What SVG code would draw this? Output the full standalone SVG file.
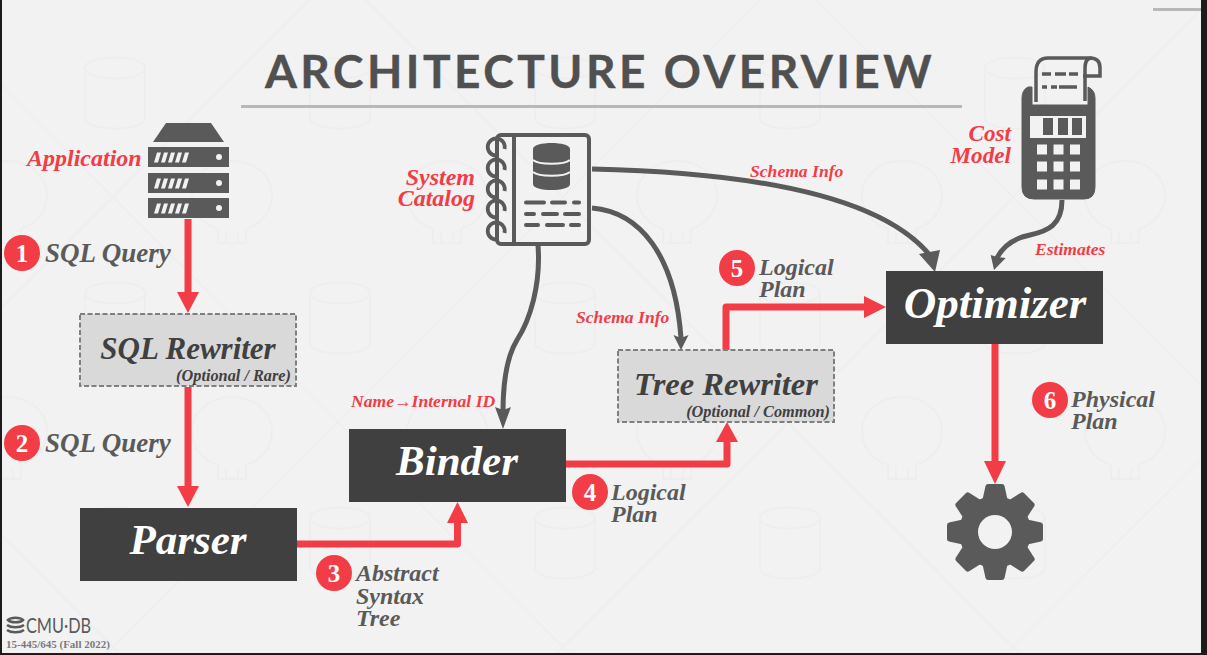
<svg xmlns="http://www.w3.org/2000/svg" width="1207" height="655" viewBox="0 0 1207 655">
<style>
.s{font-family:"Liberation Serif","Noto Serif",serif;font-style:italic;font-weight:700}
.red{fill:#f23c46}
.g{fill:#5a5a5a}
.lab{font-size:27px}
.rl{font-size:24px;fill:#f23c46}
.sm{font-size:17.600px;fill:#f23c46}
.num{font-family:"Liberation Serif",serif;font-weight:700;font-size:25px;fill:#fff;text-anchor:middle}
.box{fill:#fff;text-anchor:middle}
.opt{fill:#404040;text-anchor:middle}
.sub{font-size:16.300px;fill:#404040;text-anchor:end}
.dk{fill:#404040}
.dash{fill:#d9d9d9;stroke:#7f7f7f;stroke-width:2;stroke-dasharray:5 2.500}
.ra{fill:none;stroke:#f23c46;stroke-width:7}
.ga{fill:none;stroke:#5a5a5a;stroke-width:5}
.wm{fill:none;stroke:#eeeeee;stroke-width:2}
</style>
<defs>
<g id="rack"><rect width="81" height="20" fill="#5a5a5a"/><path d="M6 15.500l3-10h4l-3 10zM13 15.500l3-10h4l-3 10zM20 15.500l3-10h4l-3 10zM27 15.500l3-10h4l-3 10zM34 15.500l3-10h4l-3 10z" fill="#f2f2f2"/><circle cx="71" cy="10" r="3" fill="#f2f2f2"/></g>
<g id="wdb"><path class="wm" d="M0 8v50c0 14 60 14 60 0V8c0-14-60-14-60 0c0 14 60 14 60 0"/></g>
<g id="wsk"><path class="wm" d="M-14 36v-14c-18-6-26-20-26-34c0-20 18-34 40-34s40 14 40 34c0 14-8 28-26 34v14zM-6 36v-10M6 36v-10"/></g>
<path id="coil" d="M8.500 2A8.500 8.500 0 1 0 0 8.500" fill="none" stroke="#5a5a5a" stroke-width="3.800"/>
<path id="tooth" d="M-13 -30L-9.500 -46Q-9 -48 -7 -48H7Q9 -48 9.500 -46L13 -30z" fill="#5a5a5a"/>
</defs>
<rect width="1207" height="655" fill="#f2f2f2"/>
<g id="background-marks">
<path d="M0 534L121 655M0 84L571 655M366 0L1021 655M816 0L1207 391M310 0L0 310M760 0L105 655M1207 3L555 655M1207 453L1005 655" fill="none" stroke="#eeeeee" stroke-width="1.500"/>
<use href="#wdb" x="85" y="60"/><use href="#wdb" x="310" y="60"/><use href="#wdb" x="535" y="60"/><use href="#wdb" x="760" y="60"/><use href="#wdb" x="985" y="60"/>
<use href="#wdb" x="85" y="285"/><use href="#wdb" x="310" y="285"/><use href="#wdb" x="535" y="285"/><use href="#wdb" x="760" y="285"/><use href="#wdb" x="985" y="285"/>
<use href="#wdb" x="85" y="510"/><use href="#wdb" x="310" y="510"/><use href="#wdb" x="535" y="510"/><use href="#wdb" x="760" y="510"/><use href="#wdb" x="985" y="510"/>
<use href="#wsk" x="7" y="207"/><use href="#wsk" x="232" y="207"/><use href="#wsk" x="447" y="207"/><use href="#wsk" x="677" y="207"/><use href="#wsk" x="902" y="207"/><use href="#wsk" x="1125" y="207"/>
<use href="#wsk" x="7" y="443"/><use href="#wsk" x="232" y="443"/><use href="#wsk" x="447" y="443"/><use href="#wsk" x="677" y="443"/><use href="#wsk" x="902" y="443"/><use href="#wsk" x="1125" y="443"/>
</g>
<rect x="0" y="0" width="2" height="655" fill="#1c1c1c"/>
<rect x="0" y="653" width="1207" height="2" fill="#1c1c1c"/>
<rect x="1201" y="0" width="6" height="655" fill="#1c1c1c"/>
<g id="page-tab"><rect x="1153" y="8" width="48" height="3" fill="#b8b8b8"/></g>

<g id="title">
<text x="600" y="88" text-anchor="middle" font-family="Lato,'Open Sans',sans-serif" font-weight="700" font-size="46" letter-spacing="3.500" fill="#505050" stroke="#505050" stroke-width="0.400">ARCHITECTURE OVERVIEW</text>
<rect x="241" y="105" width="721" height="3" fill="#b8b8b8"/>
</g>

<g id="connectors">
<path class="ra" d="M188 219V294"/><path class="red" d="M177 292H199L188 313z"/>
<path class="ra" d="M188 387V488"/><path class="red" d="M177 486H199L188 507z"/>
<path class="ra" d="M297 544H457.500V521" stroke-linejoin="round"/><path class="red" d="M447 523H468L457.500 502z"/>
<path class="ra" d="M566 464H727V441" stroke-linejoin="round"/><path class="red" d="M716 442H738L727 422z"/>
<path class="ra" d="M726 350V307H868" stroke-linejoin="round"/><path class="red" d="M864 296V318L886 307z"/>
<path class="ra" d="M995 344V464"/><path class="red" d="M984 461H1006L995 484z"/>
<path class="ga" d="M592 169C730 172 880 190 932 258"/><path class="g" d="M919 254L940 250L935 272z"/>
<path class="ga" d="M592 208C640 212 675 255 681 338"/><path class="g" d="M673.500 335L681 338L688.500 335L681 350z"/>
<path class="ga" d="M538 245C541 285 530 320 517 340C506 358 503 385 503 412"/><path class="g" d="M495 407L503 410L511 407L503 429z"/>
<path class="ga" d="M1062 200C1062 225 1048 231 1030 235C1015 238 1003 246 997 258"/><path class="g" d="M990.700 255L997 257L1005.700 258L994 270z"/>
</g>

<g id="application">
<path d="M153 142L166 123H211L224 142z" fill="#5a5a5a"/>
<use href="#rack" x="148" y="147"/><use href="#rack" x="148" y="173"/><use href="#rack" x="148" y="198"/>
<text class="s rl" x="27" y="166">Application</text>
</g>

<g id="step1"><circle class="red" cx="22" cy="253" r="18"/><text class="num" x="22" y="262">1</text><text class="s g lab" x="45" y="262">SQL Query</text></g>
<g id="step2"><circle class="red" cx="22" cy="443" r="18"/><text class="num" x="22" y="452">2</text><text class="s g lab" x="45" y="452">SQL Query</text></g>
<g id="step3"><circle class="red" cx="334" cy="573" r="18"/><text class="num" x="334" y="582">3</text><text class="s g" font-size="24"><tspan x="356" y="581">Abstract</tspan><tspan x="356" y="604">Syntax</tspan><tspan x="356" y="626">Tree</tspan></text></g>
<g id="step4"><circle class="red" cx="590" cy="492" r="18"/><text class="num" x="590" y="501">4</text><text class="s g" font-size="24"><tspan x="611" y="500">Logical</tspan><tspan x="611" y="522">Plan</tspan></text></g>
<g id="step5"><circle class="red" cx="737" cy="268" r="18"/><text class="num" x="737" y="277">5</text><text class="s g" font-size="24"><tspan x="759" y="275">Logical</tspan><tspan x="759" y="297">Plan</tspan></text></g>
<g id="step6"><circle class="red" cx="1050" cy="400" r="18"/><text class="num" x="1050" y="409">6</text><text class="s g" font-size="24"><tspan x="1071" y="407">Physical</tspan><tspan x="1071" y="429">Plan</tspan></text></g>

<g id="sql-rewriter"><rect class="dash" x="80" y="314" width="216" height="72"/><text class="s opt" font-size="31" x="188" y="359">SQL Rewriter</text><text class="s sub" x="291" y="381">(Optional / Rare)</text></g>
<g id="parser"><rect class="dk" x="80" y="508" width="217" height="73"/><text class="s box" font-size="43" x="188" y="554">Parser</text></g>
<g id="binder"><rect class="dk" x="349" y="429" width="217" height="73"/><text class="s box" font-size="43" x="457" y="475">Binder</text></g>
<g id="tree-rewriter"><rect class="dash" x="618" y="350" width="216" height="72"/><text class="s opt" font-size="32.500" x="726" y="395">Tree Rewriter</text><text class="s sub" x="830" y="417">(Optional / Common)</text></g>
<g id="optimizer"><rect class="dk" x="886" y="271" width="217" height="73"/><text class="s box" font-size="45" x="995" y="318">Optimizer</text></g>

<g id="system-catalog">
<rect x="497" y="135" width="92" height="109" rx="4" fill="none" stroke="#5a5a5a" stroke-width="4"/>
<path d="M514 135V244" stroke="#5a5a5a" stroke-width="4"/>
<use href="#coil" x="496" y="147"/><use href="#coil" x="496" y="168"/><use href="#coil" x="496" y="189"/><use href="#coil" x="496" y="209"/><use href="#coil" x="496" y="231"/>
<path d="M533 149c0-8 37-8 37 0v35c0 8-37 8-37 0z" fill="#5a5a5a"/>
<path d="M533 160c6 5 31 5 37 0M533 172c6 5 31 5 37 0" fill="none" stroke="#f2f2f2" stroke-width="2"/>
<path d="M526 202.500h18M552 202.500h13M574 202.500h5M526 214h8M543 214h14M565 214h14M526 225h12M547 225h16M571 225h8" fill="none" stroke="#5a5a5a" stroke-width="4" stroke-linecap="round"/>
<text class="s rl" text-anchor="end"><tspan x="475" y="185">System</tspan><tspan x="475" y="206">Catalog</tspan></text>
</g>

<g id="cost-model">
<path d="M1036 102V72Q1036 58 1048 58H1090Q1100 58 1100 68V76H1083" fill="none" stroke="#5a5a5a" stroke-width="3.500"/>
<path d="M1085 101V68Q1085 58 1092 58" fill="none" stroke="#5a5a5a" stroke-width="3.500"/>
<path d="M1042 74h9M1055 74h11M1069 74h9M1042 87h5M1051 87h6M1059 87h18" stroke="#5a5a5a" stroke-width="3.500" fill="none"/>
<path d="M1028 87Q1022 90 1022 98V187Q1022 199 1034 199H1084Q1095 199 1095 187V98Q1095 90 1088 87V105H1032V87z" fill="#5a5a5a" stroke="#5a5a5a"/>
<rect x="1030" y="116" width="56" height="22" fill="#f2f2f2"/>
<path d="M1043 118h10v17h-10zM1058 118h10v17h-10zM1072 118h10v17h-10z" fill="#5a5a5a"/>
<path d="M1037 144.500h10v10h-10zM1053.500 144.500h10v10h-10zM1070 144.500h10v10h-10zM1037 161.500h10v10h-10zM1053.500 161.500h10v10h-10zM1070 161.500h10v10h-10zM1037 179.500h10v10h-10zM1053.500 179.500h10v10h-10zM1070 179.500h10v10h-10z" fill="#f2f2f2"/>
<text class="s rl" text-anchor="end" style="font-size:23.200px"><tspan x="1011" y="141">Cost</tspan><tspan x="1011" y="163">Model</tspan></text>
</g>

<g id="execution-gear" transform="translate(995 532)">
<use href="#tooth"/><use href="#tooth" transform="rotate(45)"/><use href="#tooth" transform="rotate(90)"/><use href="#tooth" transform="rotate(135)"/><use href="#tooth" transform="rotate(180)"/><use href="#tooth" transform="rotate(225)"/><use href="#tooth" transform="rotate(270)"/><use href="#tooth" transform="rotate(315)"/>
<circle r="36" fill="#5a5a5a"/><circle r="17" fill="#f2f2f2"/>
</g>

<g id="edge-labels">
<text class="s sm" x="750" y="177">Schema Info</text>
<text class="s sm" x="1035" y="255">Estimates</text>
<text class="s sm" x="576" y="323">Schema Info</text>
<text class="s sm" x="351" y="407">Name→Internal ID</text>
</g>

<g id="footer">
<path d="M8 620c3-3 12-3 15 0c-3 3-12 3-15 0zM7 625c4 3 13 3 17 0M7 630c4 3 13 3 17 0" fill="none" stroke="#5a5a5a" stroke-width="2.500"/>
<text x="26" y="633" font-family="Lato,sans-serif" font-size="21" textLength="65" lengthAdjust="spacingAndGlyphs" fill="#5a5a5a">CMU·DB</text>
<text x="6" y="648" font-family="'Liberation Serif',serif" font-weight="700" font-size="11" fill="#7a7a7a">15-445/645 (Fall 2022)</text>
</g>
</svg>
